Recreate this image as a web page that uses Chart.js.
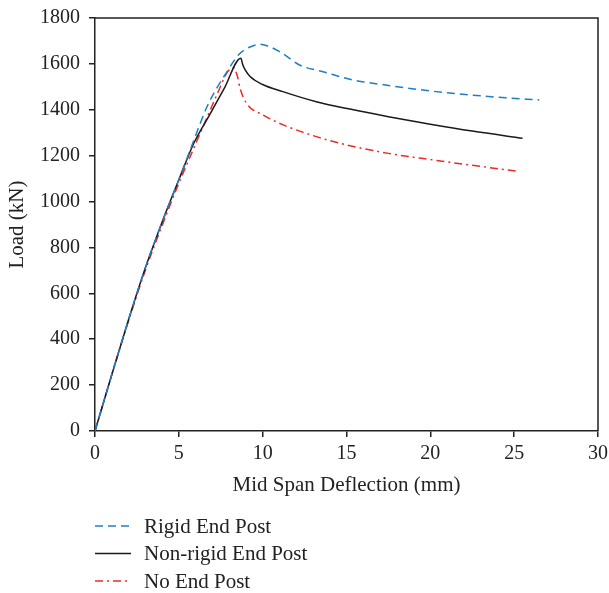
<!DOCTYPE html>
<html>
<head>
<meta charset="utf-8">
<script src="https://cdn.jsdelivr.net/npm/chart.js@4/dist/chart.umd.min.js"></script>
<style>
  body { margin: 0; background: #fff; }
  #wrap { width: 609px; height: 593px; position: relative; }
</style>
</head>
<body>
<div id="wrap"><canvas id="loadChart"></canvas></div>
<script>
// series (deflection in mm, load in kN)
const rigidX = [0, 1, 2, 3, 4, 5, 5.9, 6.66, 7.26, 7.75, 8.55, 9.0, 9.4, 9.85, 10.3, 10.9, 11.3, 12.2, 13.6, 15.2, 17.5, 20, 22.5, 24.5, 26.5];
const rigidY = [0, 245, 485, 710, 910, 1095, 1268, 1410, 1494, 1552, 1639, 1665, 1678, 1686, 1678, 1658, 1640, 1595, 1566, 1533, 1506, 1482, 1464, 1452, 1443];

const nonRigidX = [0, 1, 2, 3, 4, 5, 5.9, 6.8, 7.7, 8.7, 8.8, 8.95, 9.25, 10, 11.2, 13.2, 15.2, 17.5, 20, 22.5, 25.5];
const nonRigidY = [0, 245, 485, 710, 910, 1095, 1255, 1373, 1492, 1625, 1600, 1575, 1545, 1510, 1479, 1435, 1403, 1370, 1337, 1307, 1276];

const noPostX = [0, 1, 2, 3, 4, 5, 5.7, 6.66, 7.35, 7.85, 8.25, 8.5, 8.65, 9.04, 10.04, 11.23, 13.2, 15, 17.5, 20, 22.5, 25.1];
const noPostY = [0, 245, 480, 700, 895, 1080, 1200, 1363, 1479, 1559, 1584, 1544, 1494, 1428, 1377, 1334, 1283, 1247, 1210, 1183, 1158, 1133];

const seriesLabels = ["Rigid End Post", "Non-rigid End Post", "No End Post"];
const xTicks = [0, 5, 10, 15, 20, 25, 30];
const yTicks = [0, 200, 400, 600, 800, 1000, 1200, 1400, 1600, 1800];

const pts = (xs, ys) => xs.map((x, i) => ({ x: x, y: ys[i] }));
const FONT = "'Liberation Serif', 'DejaVu Serif', serif";

// top/right frame lines + vertical legend under the plot
const framePlugin = {
  id: "frame",
  afterDraw(chart) {
    const { ctx, chartArea: a } = chart;
    ctx.save();
    ctx.strokeStyle = "#222";
    ctx.lineWidth = 1.5;
    ctx.beginPath();
    ctx.moveTo(a.left, a.top);
    ctx.lineTo(a.right, a.top);
    ctx.lineTo(a.right, a.bottom);
    ctx.stroke();

    ctx.font = "21px " + FONT;
    ctx.textBaseline = "middle";
    ctx.fillStyle = "#222";
    chart.data.datasets.forEach((ds, i) => {
      const y = 526 + i * 27.5;
      ctx.strokeStyle = ds.borderColor;
      ctx.lineWidth = 1.5;
      ctx.setLineDash(ds.borderDash || []);
      ctx.beginPath();
      ctx.moveTo(95, y);
      ctx.lineTo(131, y);
      ctx.stroke();
      ctx.setLineDash([]);
      ctx.fillText(ds.label, 144, y + 1);
    });
    ctx.restore();
  },
};

new Chart(document.getElementById("loadChart"), {
  type: "scatter",
  data: {
    datasets: [
      {
        label: seriesLabels[0],
        data: pts(rigidX, rigidY),
        borderColor: "#1f7fc6",
        borderDash: [8, 5],
      },
      {
        label: seriesLabels[1],
        data: pts(nonRigidX, nonRigidY),
        borderColor: "#1a1a1a",
        borderDash: [],
      },
      {
        label: seriesLabels[2],
        data: pts(noPostX, noPostY),
        borderColor: "#ec2b24",
        borderDash: [8, 4, 2, 4],
      },
    ].map((d) => Object.assign(d, {
      showLine: true,
      pointRadius: 0,
      borderWidth: 1.5,
      cubicInterpolationMode: "monotone",
      fill: false,
    })),
  },
  options: {
    responsive: true,
    maintainAspectRatio: false,
    animation: false,
    layout: { padding: { left: 0, top: 18, right: 11, bottom: 82 } },
    plugins: { legend: { display: false }, tooltip: { enabled: false } },
    scales: {
      x: {
        type: "linear",
        min: 0,
        max: 30,
        afterBuildTicks: (s) => { s.ticks = xTicks.map((v) => ({ value: v })); },
        afterFit: (s) => { s.height = 80; s.paddingLeft = 0; s.paddingRight = 0; },
        grid: { drawOnChartArea: false, drawTicks: true, tickLength: 6, color: "#222", lineWidth: 1.5 },
        border: { display: true, color: "#222", width: 1.5 },
        ticks: { color: "#222", padding: 5, font: { family: FONT, size: 20 }, callback: (v) => String(v) },
        title: {
          display: true,
          text: "Mid Span Deflection (mm)",
          color: "#222",
          font: { family: FONT, size: 21 },
          padding: { top: 0, bottom: 13 },
        },
      },
      y: {
        type: "linear",
        min: 0,
        max: 1800,
        afterBuildTicks: (s) => { s.ticks = yTicks.map((v) => ({ value: v })); },
        afterFit: (s) => { s.width = 95; s.paddingTop = 0; s.paddingBottom = 0; },
        grid: { drawOnChartArea: false, drawTicks: true, tickLength: 6, color: "#222", lineWidth: 1.5 },
        border: { display: true, color: "#222", width: 1.5 },
        ticks: { color: "#222", padding: 9, font: { family: FONT, size: 20 }, callback: (v) => String(v) },
        title: {
          display: true,
          text: "Load (kN)",
          color: "#222",
          font: { family: FONT, size: 21 },
          padding: { top: 5, bottom: 0 },
        },
      },
    },
  },
  plugins: [framePlugin],
});
</script>
</body>
</html>
